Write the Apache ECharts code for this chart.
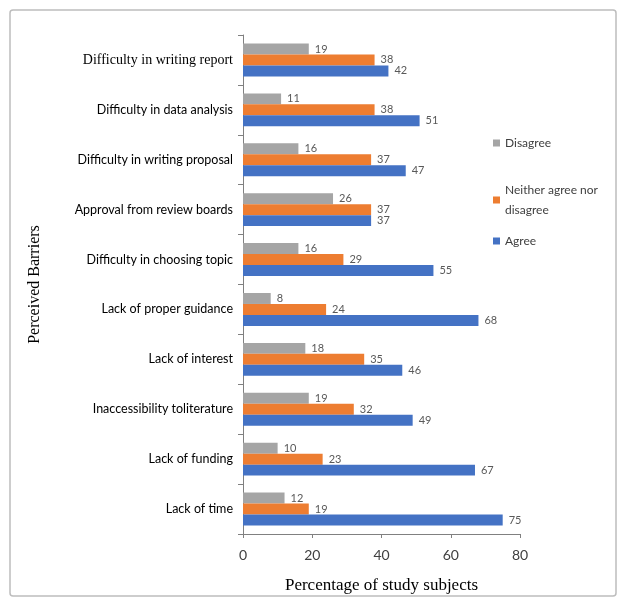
<!DOCTYPE html>
<html>
<head>
<meta charset="utf-8">
<script src="https://cdn.jsdelivr.net/npm/echarts@6/dist/echarts.min.js"></script>
<style>
  html, body { margin: 0; padding: 0; background: #fff; }
  #chart { width: 619px; height: 599px; }
</style>
</head>
<body>
<div id="chart"></div>
<script>
// barriers, top to bottom
const categories = [
  "Difficulty in writing report",
  "Difficulty in data analysis",
  "Difficulty in writing proposal",
  "Approval from review boards",
  "Difficulty in choosing topic",
  "Lack of proper guidance",
  "Lack of interest",
  "Inaccessibility toliterature",
  "Lack of funding",
  "Lack of time"
];
const disagree = [19, 11, 16, 26, 16, 8, 18, 19, 10, 12];
const neither = [38, 38, 37, 37, 29, 24, 35, 32, 23, 19];
const agree = [42, 51, 47, 37, 55, 68, 46, 49, 67, 75];
const xTicks = [0, 20, 40, 60, 80];
const legendNames = ["Disagree", "Neither agree nor\ndisagree", "Agree"];

let chart = echarts.init(document.getElementById("chart"));

function barSeries(name, data, color) {
  return {
    name: name,
    type: "bar",
    data: data,
    barGap: "0%",
    barCategoryGap: "34%",
    itemStyle: { color: color },
    label: {
      show: true,
      position: "right",
      distance: 6,
      color: "#595959",
      fontSize: 11,
      fontFamily: "Lato"
    }
  };
}

// one legend per entry so the uneven spacing can be matched
function legendAt(name, top) {
  return {
    left: 488,
    top: top,
    itemWidth: 7,
    itemHeight: 7,
    icon: "rect",
    data: [name],
    textStyle: { fontFamily: "Lato", fontSize: 12, color: "#404040", lineHeight: 20 }
  };
}

let option = {
  animation: false,
  grid: { left: 243, right: 99, top: 35, bottom: 57 },
  legend: [
    legendAt(legendNames[0], 128),
    legendAt(legendNames[1], 175),
    legendAt(legendNames[2], 226)
  ],
  xAxis: {
    type: "value",
    min: xTicks[0],
    max: xTicks[xTicks.length - 1],
    interval: 20,
    splitLine: { show: false },
    axisLine: { show: true, lineStyle: { color: "#808080" } },
    axisTick: { show: true, length: 4, lineStyle: { color: "#808080" } },
    axisLabel: { color: "#404040", fontSize: 14, fontFamily: "Lato", margin: 14 },
    name: "Percentage of study subjects",
    nameLocation: "middle",
    nameGap: 43,
    nameTextStyle: { fontFamily: "Liberation Serif", fontSize: 17, color: "#000" }
  },
  yAxis: {
    type: "category",
    inverse: true,
    data: categories,
    axisLine: { show: true, lineStyle: { color: "#808080" } },
    axisTick: { show: true, length: 5, lineStyle: { color: "#808080" } },
    axisLabel: {
      margin: 10,
      color: "#000",
      fontSize: 12.5,
      fontFamily: "Lato",
      formatter: function (v, i) {
        return i === 0 ? "{serif|" + v + "}" : v;
      },
      rich: {
        serif: { fontFamily: "Liberation Serif", fontSize: 14, color: "#000" }
      }
    },
    name: "Perceived Barriers",
    nameLocation: "middle",
    nameGap: 200,
    nameRotate: 90,
    nameTextStyle: { fontFamily: "Liberation Serif", fontSize: 16, color: "#000", padding: [0, 0, 0, 0] }
  },
  graphic: [{
    type: "rect",
    shape: { x: 10, y: 10, width: 606, height: 586, r: 3 },
    style: { fill: "none", stroke: "#bdbdbd", lineWidth: 1.5 },
    silent: true
  }],
  series: [
    barSeries(legendNames[0], disagree, "#A5A5A5"),
    barSeries(legendNames[1], neither, "#ED7D31"),
    barSeries(legendNames[2], agree, "#4472C4")
  ]
};

chart.setOption(option);
</script>
</body>
</html>
